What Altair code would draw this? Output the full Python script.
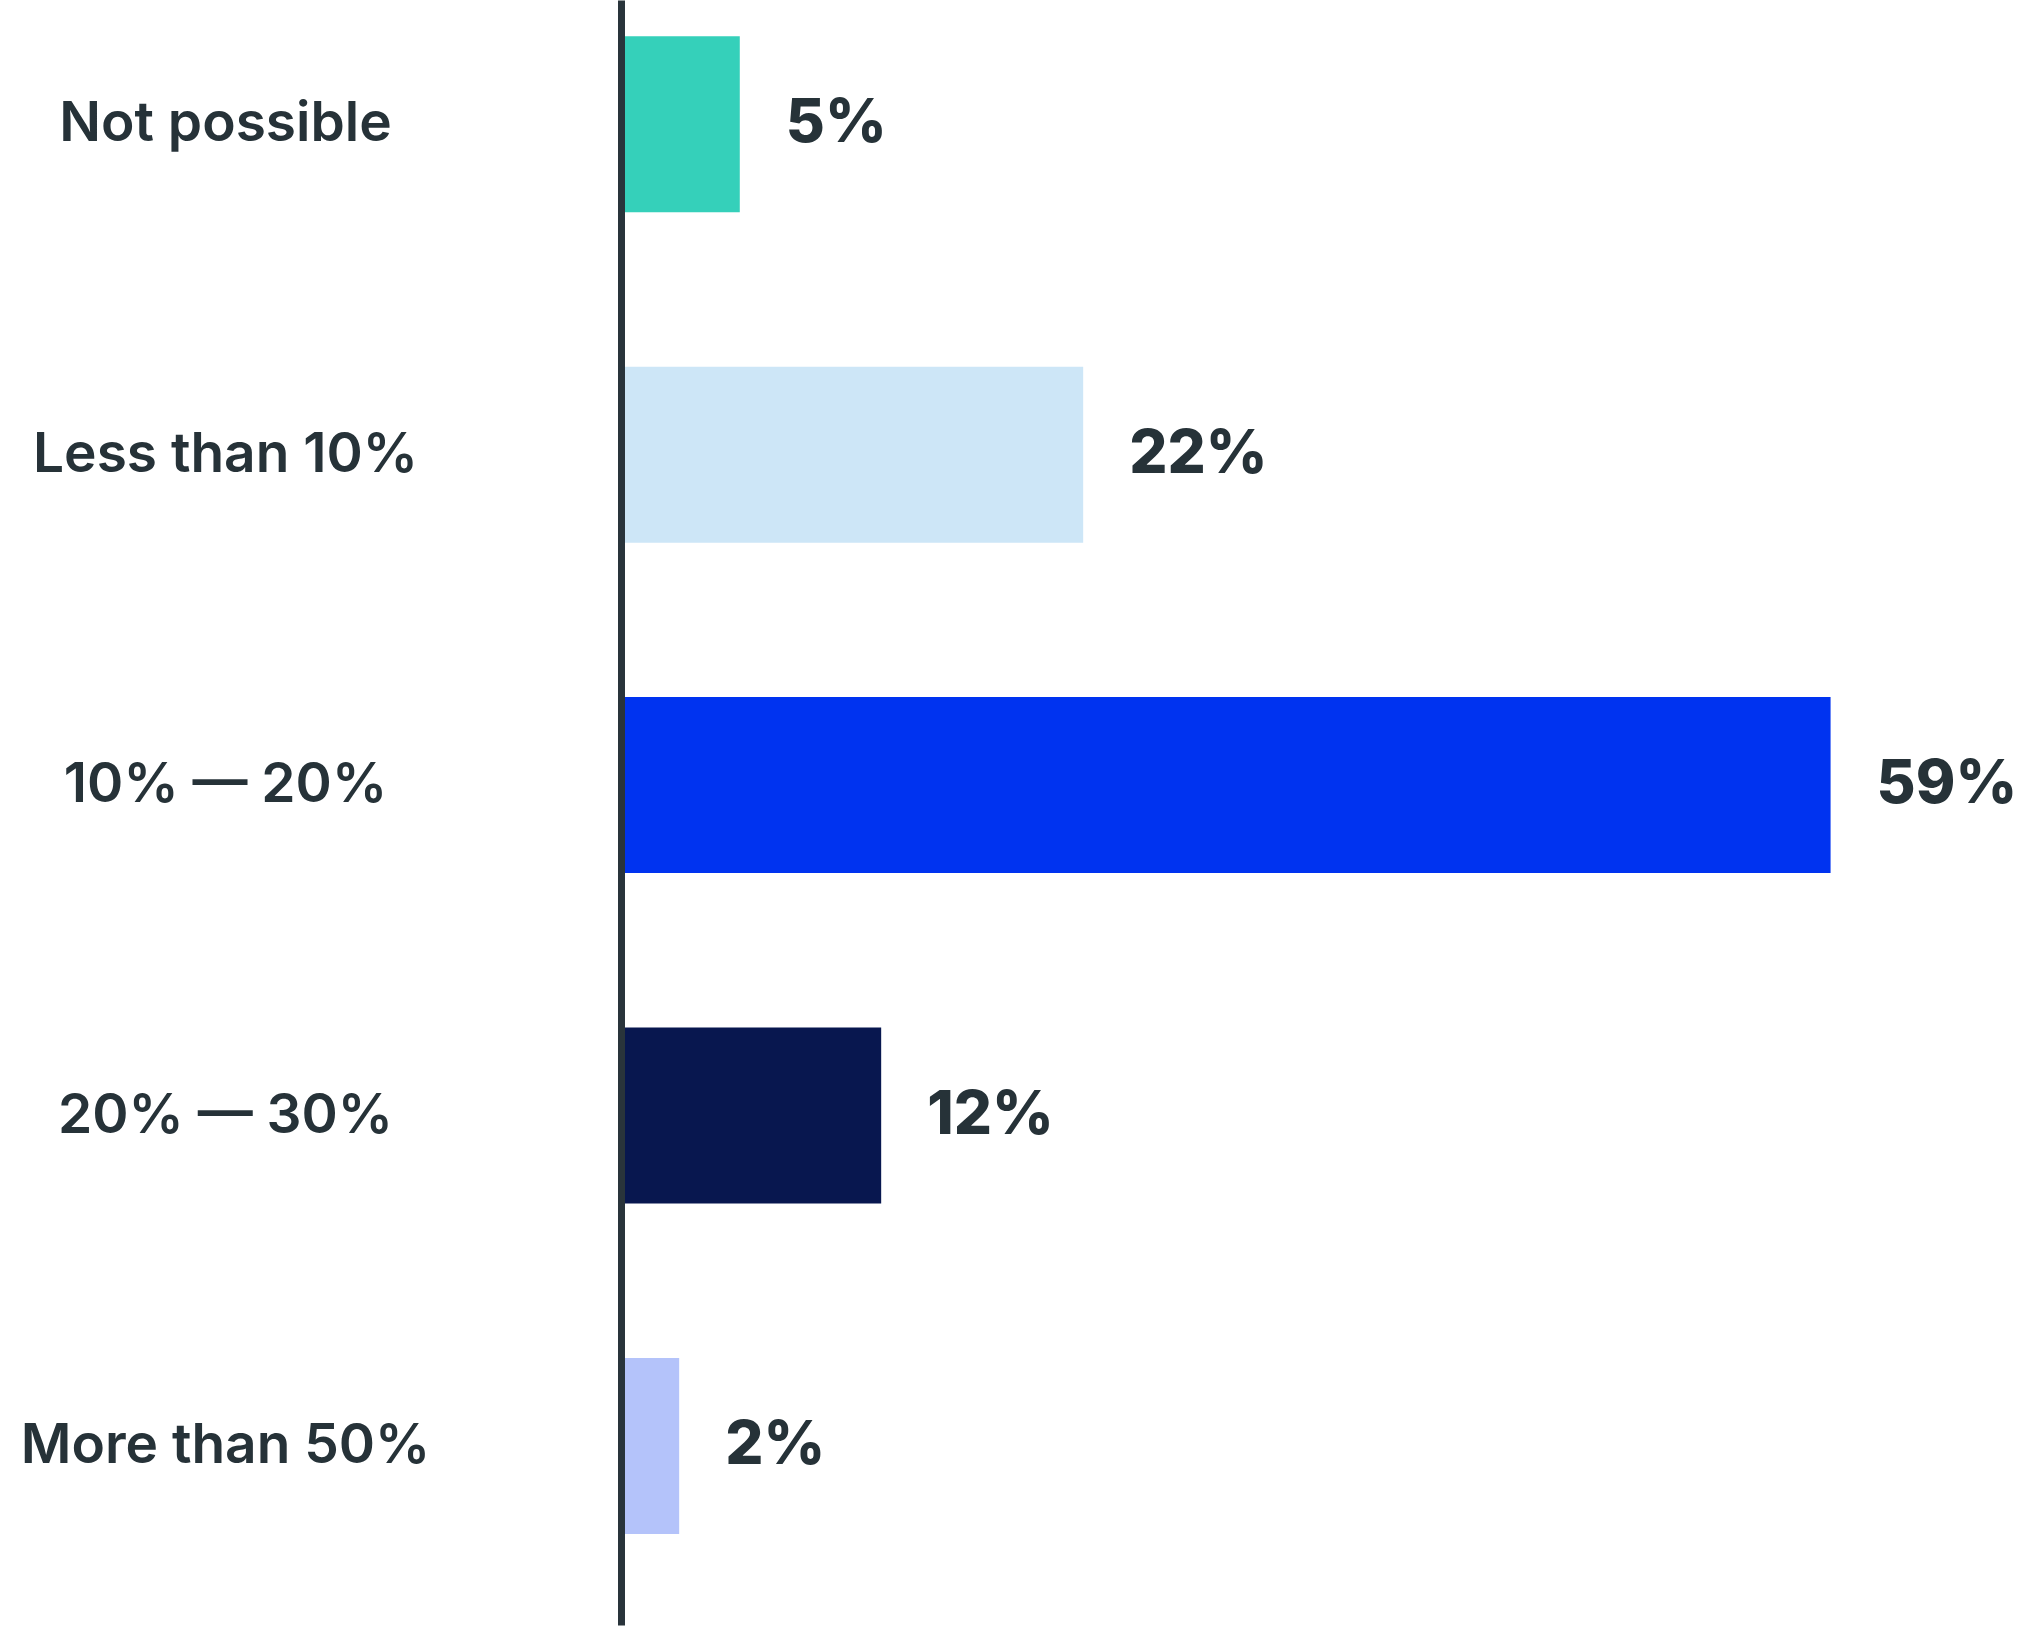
import altair as alt
import pandas as pd

categories = ["Not possible", "Less than 10%", "10% — 20%", "20% — 30%", "More than 50%"]
values = [5, 22, 59, 12, 2]
labels = ["5%", "22%", "59%", "12%", "2%"]
colors = ["#35D0BA", "#CDE6F7", "#0033F0", "#08174F", "#B4C3FA"]

df = pd.DataFrame({"category": categories, "value": values, "label": labels})

TEXT = "#263238"
FONT = "Inter"
X_MIN = -0.88

y_enc = alt.Y(
    "category:N",
    sort=categories,
    scale=alt.Scale(paddingInner=0.4673, paddingOuter=0.1928, align=0.285),
    axis=alt.Axis(
        title=None,
        ticks=False,
        domain=True,
        domainColor="#29343B",
        domainWidth=7,
        labelAlign="center",
        labelBaseline="middle",
        labelPadding=396,
        labelFont=FONT,
        labelFontSize=55,
        labelFontWeight=600,
        labelColor=TEXT,
        labelLimit=0,
        labelOverlap=False,
        grid=False,
        zindex=2,
    ),
)

x_scale = alt.Scale(domain=[X_MIN, 68.08], nice=False, zero=False)

bars = alt.Chart(df).mark_bar().encode(
    y=y_enc,
    x=alt.X("value:Q", scale=x_scale, axis=None),
    x2=alt.datum(X_MIN),
    color=alt.Color("category:N", scale=alt.Scale(domain=categories, range=colors), legend=None),
)

text = alt.Chart(df).mark_text(
    align="left", baseline="middle", dx=46, font=FONT, fontSize=60, fontWeight=800, color=TEXT
).encode(
    y=alt.Y("category:N", sort=categories),
    x=alt.X("value:Q", scale=x_scale, axis=None),
    text="label:N",
)

chart = (
    alt.layer(bars, text)
    .properties(
        width=1393,
        height=1625,
        autosize=alt.AutoSizeParams(type="none"),
        padding={"left": 621, "top": 0, "right": 20, "bottom": 6},
        background="white",
    )
    .configure_view(strokeWidth=0)
)

chart.save("out.html", embed_options={"renderer": "svg", "actions": False})
